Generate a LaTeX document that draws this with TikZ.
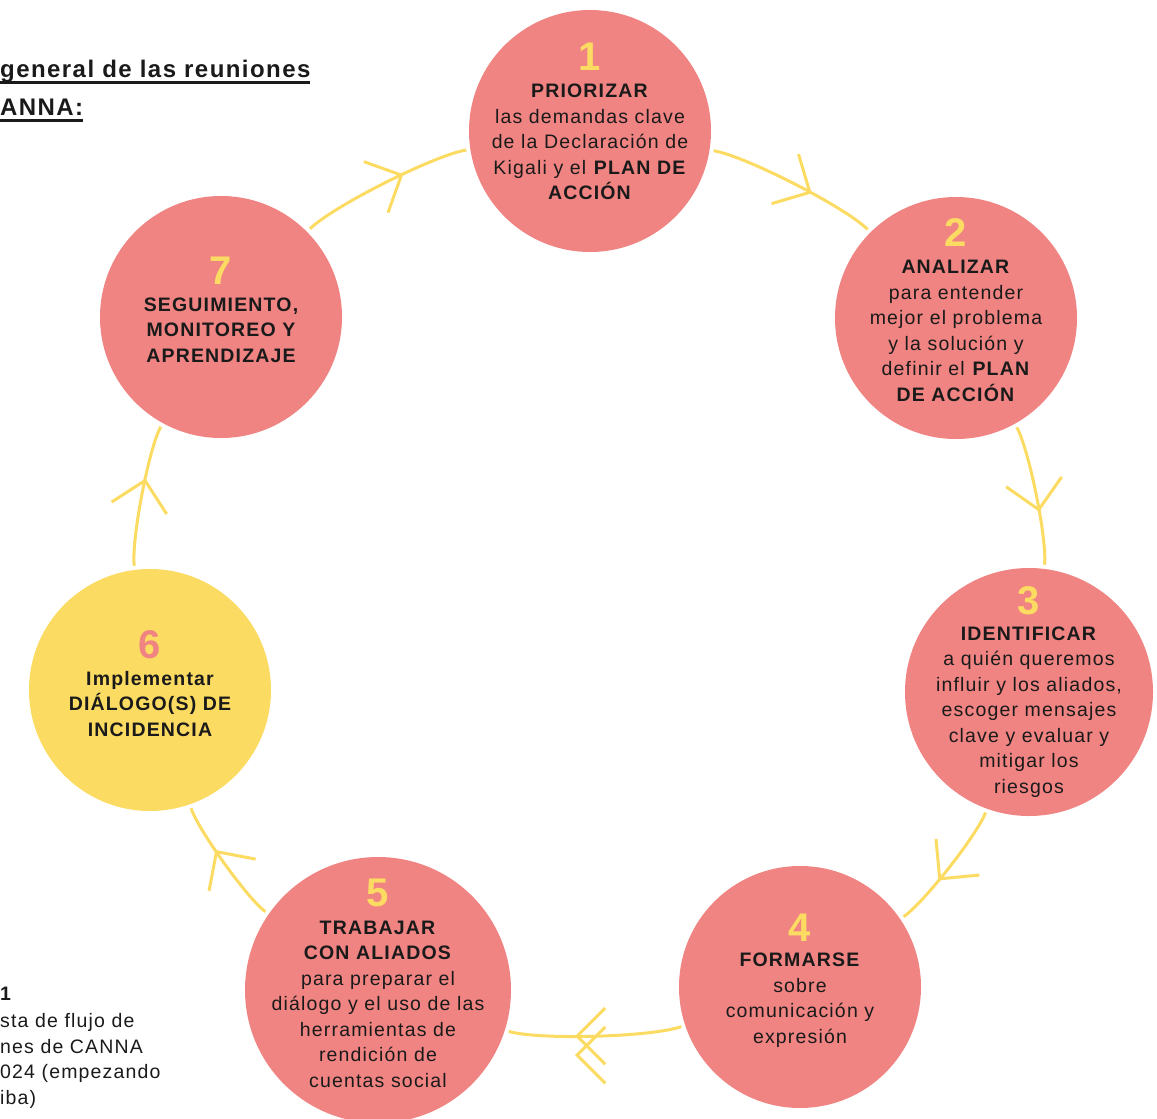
\documentclass[tikz,border=0pt]{standalone}
\usepackage{fontspec}
\setmainfont[LetterSpace=6]{Liberation Sans}
\newcommand{\thickul}[1]{\setbox0\hbox{#1}\rlap{\rule[-6.5pt]{\wd0}{2.6pt}}\box0}
\usetikzlibrary{decorations.markings}
\definecolor{salmon}{HTML}{F08482}
\definecolor{sun}{HTML}{FCDB62}
\definecolor{ink}{HTML}{1A1A1A}
\newcommand{\chevronmark}{\draw[draw=sun,line width=3pt] (-31pt,31pt) -- (0pt,0pt) -- (-31pt,-31pt);}
\begin{document}
\begin{tikzpicture}[x=1pt,y=-1pt,
		stage/.style={circle,fill=salmon,minimum size=242pt,inner sep=0pt},
		num/.style={font=\fontsize{40}{40}\selectfont\bfseries,text=sun,inner sep=0pt},
		body/.style={font=\fontsize{19.5}{25.5}\selectfont,text=ink,align=center,inner sep=0pt},
		flow/.style={draw=sun,line width=3pt,shorten <=4pt,shorten >=4pt},
		chev/.style={postaction={decorate,decoration={markings,
			mark=at position 0.6 with {\chevronmark}}}},
		chevtwo/.style={postaction={decorate,decoration={markings,
			mark=at position 0.6 with {\chevronmark \begin{scope}[yshift=19pt]\chevronmark\end{scope}}}}}
	]
	\useasboundingbox (0,0) rectangle (1157,1119);
	% the seven steps
	\node[stage] (c1) at (590,131) {};
	\node[stage] (c2) at (956,318) {};
	\node[stage,minimum size=248pt] (c3) at (1029,692) {};
	\node[stage] (c4) at (800,987) {};
	\node[stage,minimum size=266pt] (c5) at (378,990) {};
	\node[stage,fill=sun] (c6) at (150,690) {};
	\node[stage] (c7) at (221,317) {};
	\node[num] (n1) at (590,57) {1};
	\node[num] (n2) at (956,233) {2};
	\node[num] (n3) at (1029,601) {3};
	\node[num] (n4) at (800,928) {4};
	\node[num] (n5) at (378,893) {5};
	\node[num,text=salmon] (n6) at (150,645) {6};
	\node[num] (n7) at (221,271) {7};
	\node[body] (t1) at (590,142) {\textbf{PRIORIZAR}\\las demandas clave\\de la Declaración de\\Kigali y el \textbf{PLAN DE}\\\textbf{ACCIÓN}};
	\node[body] (t2) at (956,331) {\textbf{ANALIZAR}\\para entender\\mejor el problema\\y la solución y\\definir el \textbf{PLAN}\\\textbf{DE ACCIÓN}};
	\node[body] (t3) at (1029,712) {\textbf{IDENTIFICAR}\\a quién queremos\\influir y los aliados,\\escoger mensajes\\clave y evaluar y\\mitigar los\\riesgos};
	\node[body] (t4) at (800,1000) {\textbf{FORMARSE}\\sobre\\comunicación y\\expresión};
	\node[body] (t5) at (378,1004) {\textbf{TRABAJAR}\\\textbf{CON ALIADOS}\\para preparar el\\diálogo y el uso de las\\herramientas de\\rendición de\\cuentas social};
	\node[body,font=\fontsize{19.5}{25.5}\selectfont\bfseries] (t6) at (150,704) {Implementar\\DIÁLOGO(S) DE\\INCIDENCIA};
	\node[body,font=\fontsize{19.5}{25.5}\selectfont\bfseries] (t7) at (221,330) {SEGUIMIENTO,\\MONITOREO Y\\APRENDIZAJE};
	% flow between the steps
	\foreach \a/\b in {c1/c2,c2/c3,c3/c4,c5/c6,c6/c7,c7/c1}
	{
		\draw[flow,chev] (\a) to[bend left=18,looseness=0.5] (\b);
	}
	\draw[flow,chevtwo] (c4) to[bend left=18,looseness=0.5] (c5);
	% title and caption, cut at the left edge
	\node[anchor=base west,inner sep=0pt,text=ink,font=\fontsize{24}{37}\selectfont\bfseries] (head1) at (0,77) {\thickul{general de las reuniones}};
	\node[anchor=base west,inner sep=0pt,text=ink,font=\fontsize{24}{37}\selectfont\bfseries] (head2) at (0,115) {\thickul{ANNA:}};
	\node[anchor=base west,inner sep=0pt,text=ink,font=\fontsize{19.5}{25.7}\selectfont\bfseries] (fig) at (0,1000) {1};
	\node[anchor=north west,inner sep=0pt,text=ink,align=left,font=\fontsize{19.5}{25.7}\selectfont] (caption) at (0,1013) {sta de flujo de\\nes de CANNA\\024 (empezando\\iba)};
\end{tikzpicture}
\end{document}
